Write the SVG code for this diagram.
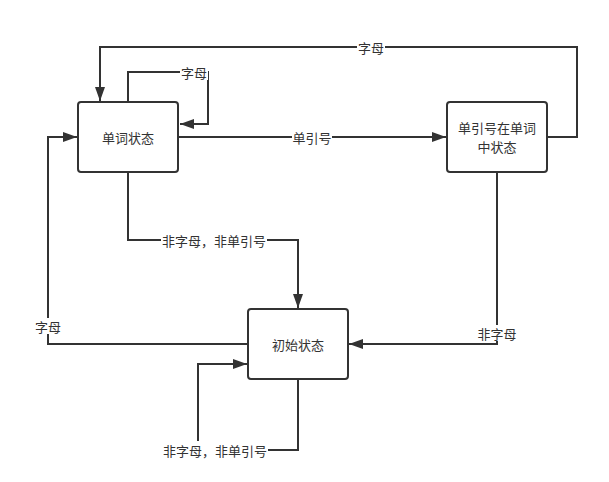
<svg xmlns="http://www.w3.org/2000/svg" width="609" height="482" viewBox="0 0 609 482">
<style>
.node rect{fill:#fff;stroke:#333;stroke-width:2}
.node text{font-family:"Noto Sans CJK SC","Liberation Sans",sans-serif;font-size:13px;fill:#333;text-anchor:middle;dominant-baseline:central}
.edge{fill:none;stroke:#333;stroke-width:2}
.lbl{font-family:"Noto Sans CJK SC","Liberation Sans",sans-serif;font-size:13px;fill:#333;text-anchor:middle;dominant-baseline:central}
.lblbg{fill:#fff}
</style>
<defs>
<marker id="arr" viewBox="0 0 14 10" refX="14" refY="5" markerWidth="14" markerHeight="10" markerUnits="userSpaceOnUse" orient="auto">
<path d="M0,0 L14,5 L0,10 Z" fill="#333"/>
</marker>
</defs>
<rect width="609" height="482" fill="#fff"/>
<g id="connectors">
<path class="edge" d="M128,102 V72 H208 V124 H180" marker-end="url(#arr)"/>
<path class="edge" d="M547,137 H577 V47 H100 V101" marker-end="url(#arr)"/>
<path class="edge" d="M178,137 H446" marker-end="url(#arr)"/>
<path class="edge" d="M128,172 V240 H298 V308" marker-end="url(#arr)"/>
<path class="edge" d="M248,344 H48 V137 H77" marker-end="url(#arr)"/>
<path class="edge" d="M497,172 V344 H349" marker-end="url(#arr)"/>
<path class="edge" d="M298,379 V450 H198 V364 H247" marker-end="url(#arr)"/>
<g>
<rect class="lblbg" x="180" y="64" width="28" height="16"/>
<text class="lbl" x="194" y="72">字母</text>
<rect class="lblbg" x="357" y="39" width="28" height="16"/>
<text class="lbl" x="371" y="47">字母</text>
<rect class="lblbg" x="292" y="129" width="40" height="16"/>
<text class="lbl" x="312" y="137">单引号</text>
<rect class="lblbg" x="161" y="232" width="106" height="16"/>
<text class="lbl" x="214" y="240">非字母，非单引号</text>
<rect class="lblbg" x="34" y="318" width="28" height="16"/>
<text class="lbl" x="48" y="326">字母</text>
<rect class="lblbg" x="476" y="325" width="42" height="16"/>
<text class="lbl" x="497" y="333">非字母</text>
<rect class="lblbg" x="162" y="441" width="106" height="18"/>
<text class="lbl" x="215" y="450">非字母，非单引号</text>
</g>
</g>
<g id="node-word" class="node">
<rect x="78" y="102" width="100" height="70" rx="3"/>
<text x="128" y="137">单词状态</text>
</g>
<g id="node-quote" class="node">
<rect x="447" y="102" width="100" height="70" rx="3"/>
<text x="497" y="127.5">单引号在单词</text>
<text x="497" y="146.5">中状态</text>
</g>
<g id="node-init" class="node">
<rect x="248" y="309" width="100" height="70" rx="3"/>
<text x="298" y="344">初始状态</text>
</g>
</svg>
